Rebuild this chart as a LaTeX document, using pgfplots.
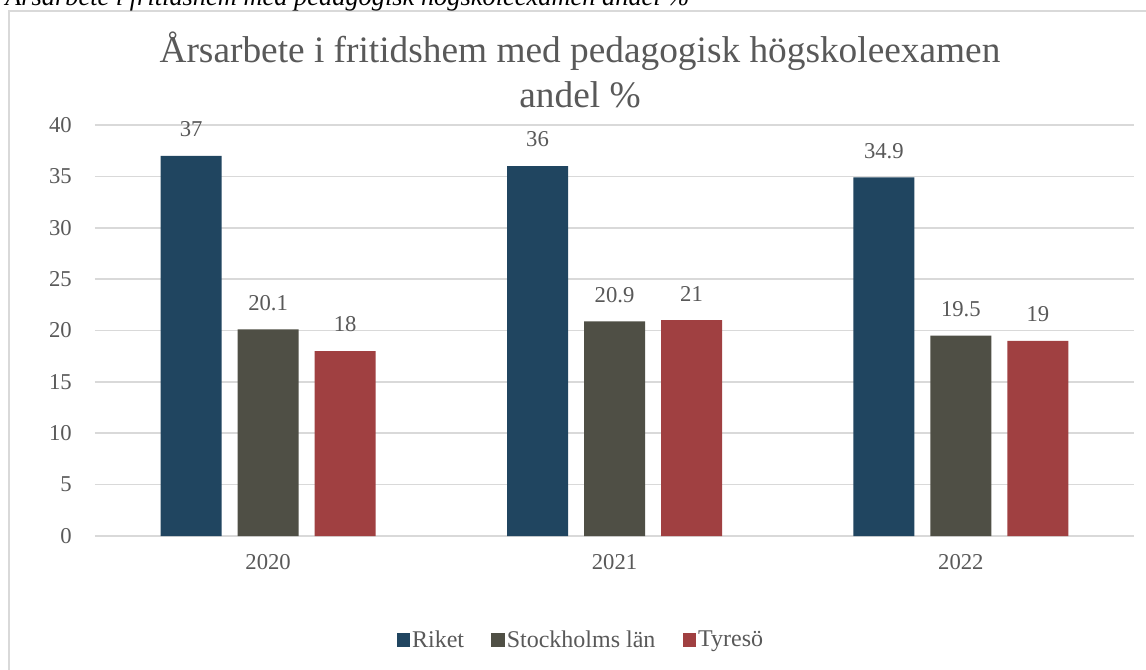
\documentclass[border=0pt]{standalone}
\usepackage{pgfplots}
\pgfplotsset{compat=1.18}
\usepackage{fontspec}
\setmainfont{Liberation Serif}
\definecolor{riket}{RGB}{32,69,96}
\definecolor{sthlm}{RGB}{79,79,69}
\definecolor{tyreso}{RGB}{160,64,65}
\definecolor{txt}{RGB}{89,89,89}
\definecolor{grd}{RGB}{217,217,217}
\begin{document}
\begin{tikzpicture}
\useasboundingbox (-71.25pt,-99.75pt) rectangle (788.25pt,402pt);
\fill[white] (-71.25pt,-99.75pt) rectangle (788.25pt,402pt);
\draw[grd, line width=1.2pt] (-64.5pt,-110pt) -- (-64.5pt,393.75pt) -- (800pt,393.75pt);
\node[anchor=base west, font=\fontsize{19.8}{24}\selectfont\itshape, inner sep=0pt] at (-67.5pt,397.5pt) {Årsarbete i fritidshem med pedagogisk högskoleexamen andel \%};
\begin{axis}[
  at={(0pt,0pt)}, anchor=south west,
  scale only axis, width=779.25pt, height=308.25pt,
  xmin=-0.5, xmax=2.5, ymin=0, ymax=40,
  ytick={0,5,...,40},
  xtick={0,1,2}, xticklabels={2020,2021,2022},
  major tick length=0pt,
  axis line style={draw=none},
  ymajorgrids, grid style={grd, line width=1.2pt},
  /pgf/number format/assume math mode=true,
  tick label style={font=\fontsize{17}{20}\selectfont, text=txt},
  yticklabel style={anchor=east, inner sep=0pt, xshift=-17.25pt},
  xticklabel style={anchor=north, inner sep=0pt, yshift=-13.5pt},
  ybar, bar width=45.75pt,
  nodes near coords,
  every node near coord/.append style={font=\fontsize{17}{20}\selectfont, text=txt, anchor=south, inner sep=0pt, yshift=14pt},
  legend columns=3,
  legend style={at={(0.4677,-0.253)}, anchor=center, draw=none, fill=none,
    font=\fontsize{18}{21}\selectfont, text=txt,
    nodes={inner sep=1.5pt},
    /tikz/every even column/.append style={column sep=19pt},
    inner sep=0pt},
  legend image code/.code={\fill[#1] (0pt,-5pt) rectangle (10pt,5pt);},
]
\addplot[fill=riket, draw=none, bar shift=-57.75pt] coordinates {(0,37) (1,36) (2,34.9)};
\addplot[fill=sthlm, draw=none, bar shift=0pt] coordinates {(0,20.1) (1,20.9) (2,19.5)};
\addplot[fill=tyreso, draw=none, bar shift=57.75pt] coordinates {(0,18) (1,21) (2,19)};
\legend{Riket, Stockholms län, Tyresö}
\end{axis}
\node[anchor=base, font=\fontsize{28}{32}\selectfont, text=txt, inner sep=0pt] at (363.75pt,355.5pt) {Årsarbete i fritidshem med pedagogisk högskoleexamen};
\node[anchor=base, font=\fontsize{28}{32}\selectfont, text=txt, inner sep=0pt] at (363.75pt,321.75pt) {andel \%};
\end{tikzpicture}
\end{document}
